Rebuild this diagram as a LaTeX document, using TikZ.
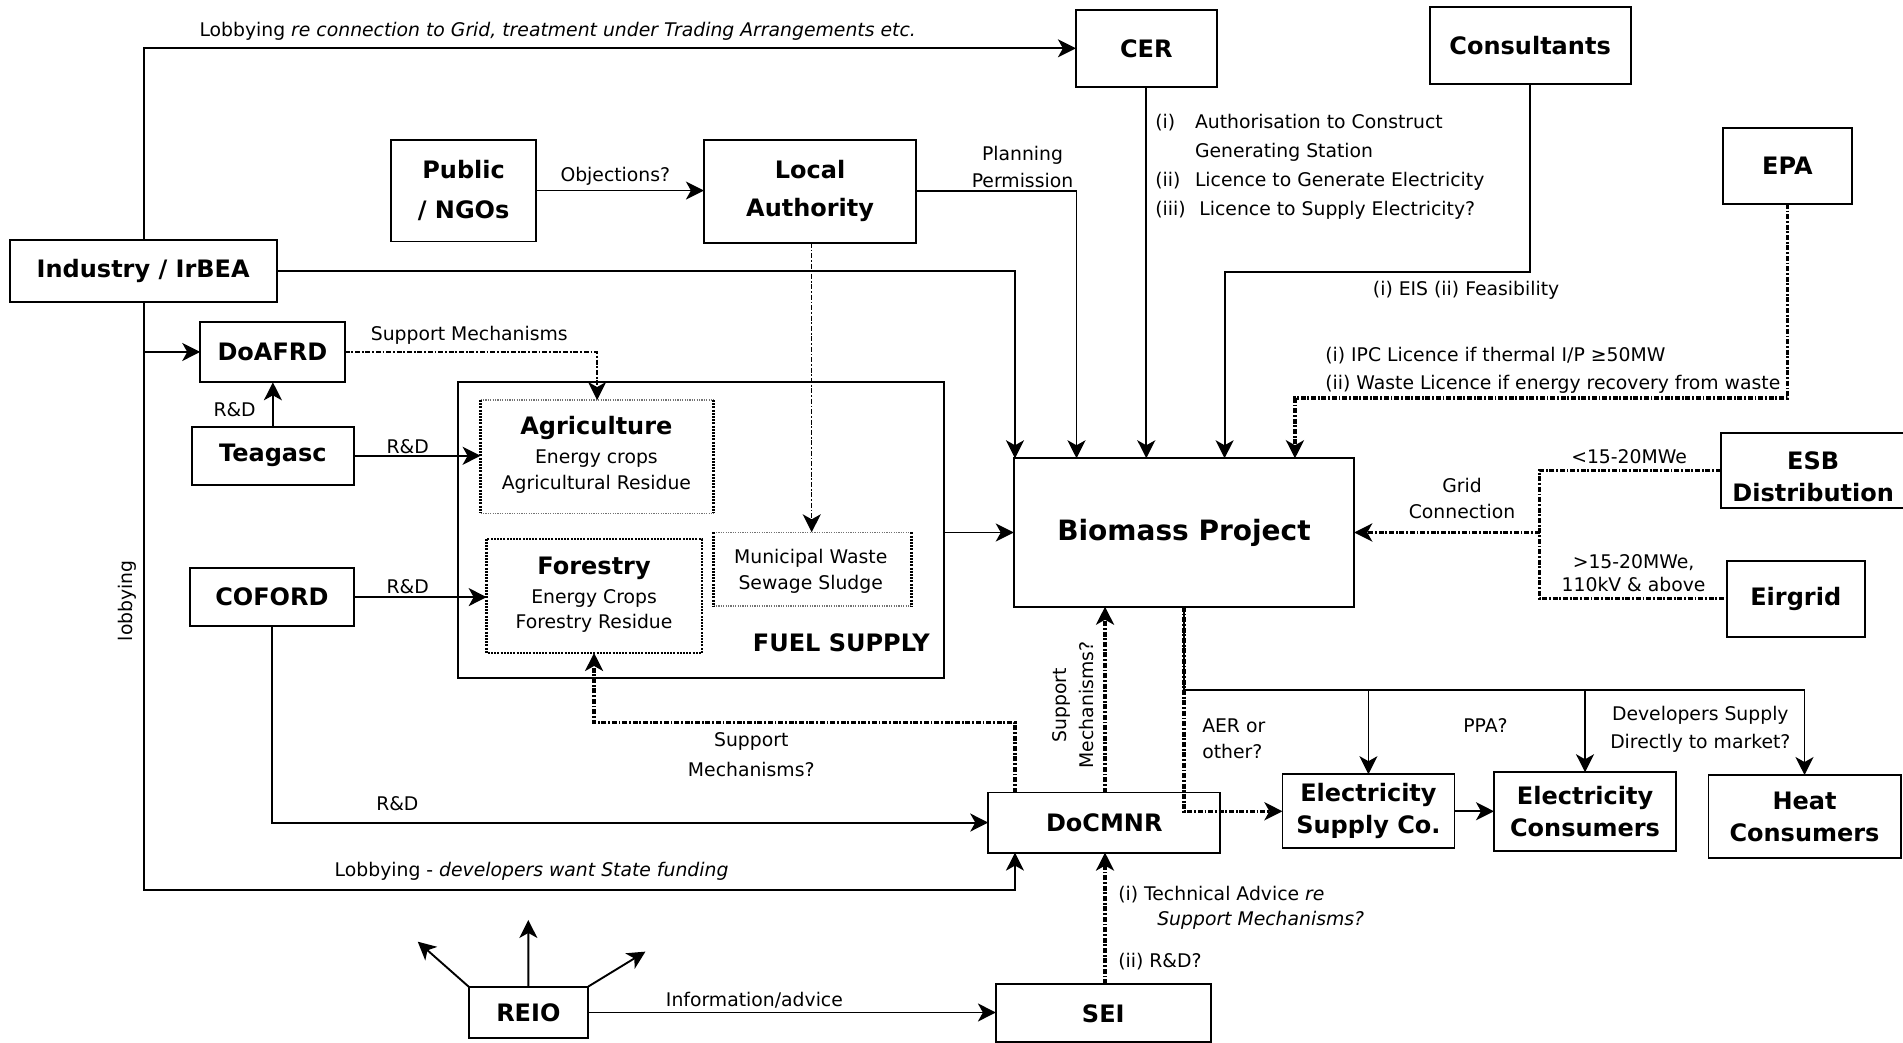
\documentclass[tikz,border=0pt]{standalone}
\usepackage{fontspec}
\setmainfont{DejaVu Sans}
\usetikzlibrary{arrows.meta,fit}
\begin{document}
\begin{tikzpicture}[x=0.6068pt,y=-0.6068pt,
  every node/.style={inner sep=0pt, outer sep=0pt},
  box/.style={draw, line width=0.95pt},
  btxt/.style={align=center, font=\bfseries\fontsize{12}{16}\selectfont},
  lab/.style={align=center, font=\fontsize{9.4}{13.5}\selectfont},
  labl/.style={align=left, font=\fontsize{9.4}{13.5}\selectfont},
  conn/.style={line width=0.95pt},
  tip/.style={-{Stealth[length=9pt,width=9pt,inset=2.5pt]}},
  dline/.style={line width=1.6pt, dash pattern=on 2.5pt off 0.9pt on 0.9pt off 0.9pt},
  dthin/.style={line width=1.1pt, dash pattern=on 2.5pt off 0.9pt on 0.9pt off 0.9pt},
  dotedge/.style={line width=1.3pt, dash pattern=on 1pt off 0.6pt},
  lightedge/.style={line width=0.7pt, black!55, dash pattern=on 0.6pt off 0.6pt},
]
\useasboundingbox (0,0) rectangle (1568,859);

% ---------- boxes ----------
\node[box, fit={(886.5,8.2) (1002.5,71.4)}] (cer) {};
\node[btxt] (cert) at (cer.center) {CER};
\node[box, fit={(1178,6) (1343.5,69)}] (cons) {};
\node[btxt] (const) at (cons.center) {Consultants};
\node[box, fit={(322,115) (442,199)}] (pub) {};
\node[btxt, font=\bfseries\fontsize{12}{20}\selectfont] (pubt) at (pub.center) {Public\\/ NGOs};
\node[box, fit={(580,115) (755,200)}] (la) {};
\node[btxt, font=\bfseries\fontsize{12}{19}\selectfont] (lat) at (la.center) {Local\\Authority};
\node[box, fit={(1419.5,105.7) (1526,168)}] (epa) {};
\node[btxt] (epat) at (epa.center) {EPA};
\node[box, fit={(8,198) (228,249)}] (ind) {};
\node[btxt] (indt) at (ind.center) {Industry / IrBEA};
\node[box, fit={(165,265) (284,315)}] (doafrd) {};
\node[btxt] (doafrdt) at (doafrd.center) {DoAFRD};
\node[box, fit={(158,351.5) (291.7,399.6)}] (teag) {};
\node[btxt] (teagt) at (teag.center) {Teagasc};
\node[box, fit={(156.4,468) (291.7,516)}] (cof) {};
\node[btxt] (coft) at (cof.center) {COFORD};
\node[box, fit={(377.4,315) (778,559)}] (fuel) {};
\node[btxt] (fuellab) at (693.2,530) {FUEL SUPPLY};

\node[fit={(396,329.6) (588,423)}] (agri) {};
\draw[lightedge] (agri.north west) -- (agri.north east) (agri.south west) -- (agri.south east);
\draw[dotedge] (agri.north west) -- (agri.south west) (agri.north east) -- (agri.south east);
\node[btxt] (agri1) at (491.4,353) {Agriculture};
\node[lab] (agri2) at (491.4,377.6) {Energy crops};
\node[lab] (agri3) at (491.4,398.8) {Agricultural Residue};

\node[fit={(401,444) (578.4,538)}] (forest) {};
\draw[dotedge] (forest.north west) rectangle (forest.south east);
\node[btxt] (for1) at (489.5,468.3) {Forestry};
\node[lab] (for2) at (489.5,493) {Energy Crops};
\node[lab] (for3) at (489.5,513.6) {Forestry Residue};

\node[fit={(588,438.6) (751,499.3)}] (mun) {};
\draw[lightedge] (mun.north west) -- (mun.north east) (mun.south west) -- (mun.south east);
\draw[dotedge] (mun.north west) -- (mun.south west) (mun.north east) -- (mun.south east);
\node[lab] (mun1) at (668,460) {Municipal Waste};
\node[lab] (mun2) at (668,481.2) {Sewage Sludge};

\node[box, fit={(835.3,377.6) (1115.8,499.9)}] (bio) {};
\node[btxt, font=\bfseries\fontsize{14}{18}\selectfont] (biot) at (bio.center) {Biomass Project};
\node[box, fit={(1417.8,356.5) (1580,418.8)}] (esb) {};
\node[btxt] (esbt) at (1494,393) {ESB\\Distribution};
\node[box, fit={(1422.8,462) (1536.4,524.6)}] (eir) {};
\node[btxt] (eirt) at (eir.center) {Eirgrid};
\node[box, fit={(814.3,653) (1005.4,702.5)}] (doc) {};
\node[btxt] (doct) at (doc.center) {DoCMNR};
\node[box, fit={(1056.7,637.9) (1198.4,699)}] (esc) {};
\node[btxt] (esct) at (esc.center) {Electricity\\Supply Co.};
\node[box, fit={(1231,636.3) (1381,701)}] (ecs) {};
\node[btxt] (ecst) at (ecs.center) {Electricity\\Consumers};
\node[box, fit={(1407.7,638.6) (1566,707.2)}] (heat) {};
\node[btxt] (heatt) at (heat.center) {Heat\\Consumers};
\node[box, fit={(820.6,811) (997.5,858.8)}] (sei) {};
\node[btxt] (seit) at (sei.center) {SEI};
\node[box, fit={(386.2,813) (484.5,855.5)}] (reio) {};
\node[btxt] (reiot) at (reio.center) {REIO};

% ---------- helper coordinates ----------
\coordinate (xind) at (118.8,0);
\coordinate (xdocA) at (836.3,0);
\coordinate (xdocB) at (910.5,0);
\coordinate (xbioA) at (836.3,0);
\coordinate (xbioB) at (887,0);
\coordinate (xla) at (668.8,0);
\coordinate (lowc) at (118.8,733.5);
\coordinate (c1) at (1009,223.8);
\coordinate (e1) at (1067,328);
\coordinate (f1) at (489.5,595.4);
\coordinate (b1) at (975.5,568.5);
\coordinate (g1) at (1268.5,0);
\coordinate (s1) at (492,0);
\coordinate (r1) at (344.2,775.9);
\coordinate (r2) at (435.3,758);
\coordinate (r3) at (531.8,784.1);

% ---------- connectors ----------
\draw[conn,tip] (xind |- ind.north) |- (cer.west);
\draw[conn,tip] (xind |- ind.south) -- (lowc) -| (xdocA |- doc.south);
\draw[conn,tip] (xind |- doafrd.west) -- (doafrd.west);
\draw[conn,tip] (ind.east) -| (xbioA |- bio.north);
\draw[conn,tip] (pub.east) -- (pub.east -| la.west);
\draw[conn,tip] (la.east) -| (xbioB |- bio.north);
\draw[dthin,line width=0.8pt,tip] (xla |- la.south) -- (xla |- mun.north);
\draw[conn,tip] (cer.south) -- (cer.south |- bio.north);
\draw[conn,tip] (cons.south) |- (c1) -- (c1 |- bio.north);
\draw[dline,tip] (epa.south) |- (e1) -- (e1 |- bio.north);
\draw[dthin,tip] (doafrd.east) -| (s1 |- agri.north);
\draw[conn,tip] (teag.north) -- (teag.north |- doafrd.south);
\draw[conn,tip] (teag.east) -- (teag.east -| agri.west);
\draw[conn,tip] (cof.east) -- (cof.east -| forest.west);
\draw[conn,tip] (cof.south) |- (doc.west);
\draw[conn,tip] (fuel.east |- bio.west) -- (bio.west);
\draw[dline,tip] (xdocA |- doc.north) |- (f1) -- (f1 |- forest.south);
\draw[dline,tip] (xdocB |- doc.north) -- (xdocB |- bio.south);
\draw[dline,tip] (b1 |- bio.south) -- (b1) |- (esc.west);
\draw[line width=1.2pt] (b1 |- bio.south) -- (b1) -- (b1 -| heat.north);
\draw[conn,tip] (b1 -| esc.north) -- (esc.north);
\draw[conn,tip] (b1 -| ecs.north) -- (ecs.north);
\draw[conn,tip] (b1 -| heat.north) -- (heat.north);
\draw[conn,tip] (esc.east) -- (esc.east -| ecs.west);
\draw[dline] (esb.west) -| (g1 |- eir.west) -- (eir.west);
\draw[dline,tip] (g1 |- bio.east) -- (bio.east);
\draw[dline,tip] (xdocB |- sei.north) -- (xdocB |- doc.south);
\draw[conn,tip] (reio.east) -- (reio.east -| sei.west);
\draw[conn,tip] (reio.north west) -- (r1);
\draw[conn,tip] (reio.north) -- (r2);
\draw[conn,tip] (reio.north east) -- (r3);

% ---------- labels ----------
\node[lab] (l1) at (459.5,26) {Lobbying \textit{re connection to Grid, treatment under Trading Arrangements etc.}};
\node[lab] (l2) at (438,718.2) {Lobbying - \textit{developers want State funding}};
\node[lab, rotate=90] (l3) at (105,495) {lobbying};
\node[lab] (l4) at (507,145.6) {Objections?};
\node[lab] (l5) at (842.5,137.6) {Planning\\Permission};
\node[labl, anchor=west, font=\fontsize{9.4}{14.4}\selectfont] (l6) at (952,137.3)
  {\makebox[19.8pt][l]{(i)}Authorisation to Construct\\\hspace*{19.8pt}Generating Station\\\makebox[19.8pt][l]{(ii)}Licence to Generate Electricity\\\makebox[22pt][l]{(iii)}Licence to Supply Electricity?};
\node[lab] (l7) at (1208,239) {(i) EIS (ii) Feasibility};
\node[labl, anchor=west, font=\fontsize{9.4}{14}\selectfont] (l8) at (1092,305.5) {(i) IPC Licence if thermal I/P ≥50MW\\(ii) Waste Licence if energy recovery from waste};
\node[lab] (l9) at (386.7,276) {Support Mechanisms};
\node[lab] (l10) at (193.3,337.8) {R\&D};
\node[lab] (l11) at (335.9,368) {R\&D};
\node[lab] (l12) at (335.9,483.4) {R\&D};
\node[lab] (l13) at (327.4,662.4) {R\&D};
\node[lab, font=\fontsize{9.4}{15}\selectfont] (l14) at (619,622) {Support\\Mechanisms?};
\node[lab, rotate=90] (l15) at (884,581) {Support\\Mechanisms?};
\node[labl, anchor=west, font=\fontsize{9.4}{13}\selectfont] (l16) at (990.6,609) {AER or\\other?};
\node[lab] (l17) at (1224,598) {PPA?};
\node[lab, font=\fontsize{9.4}{13.6}\selectfont] (l18) at (1401,601) {Developers Supply\\Directly to market?};
\node[lab, font=\fontsize{9.4}{12.9}\selectfont] (l19) at (1204.6,411) {Grid\\Connection};
\node[lab] (l20) at (1342.3,376.3) {<15-20MWe};
\node[lab, font=\fontsize{9.4}{11.5}\selectfont] (l21) at (1346,472) {>15-20MWe,\\110kV \& above};
\node[labl, anchor=west, font=\fontsize{9.4}{12.5}\selectfont] (l22) at (921.4,747.7) {(i) Technical Advice \textit{re}\\\hspace*{19.5pt}\textit{Support Mechanisms?}};
\node[labl, anchor=west] (l23) at (921.4,792.3) {(ii) R\&D?};
\node[lab] (l24) at (621.6,824.5) {Information/advice};
\end{tikzpicture}
\end{document}
